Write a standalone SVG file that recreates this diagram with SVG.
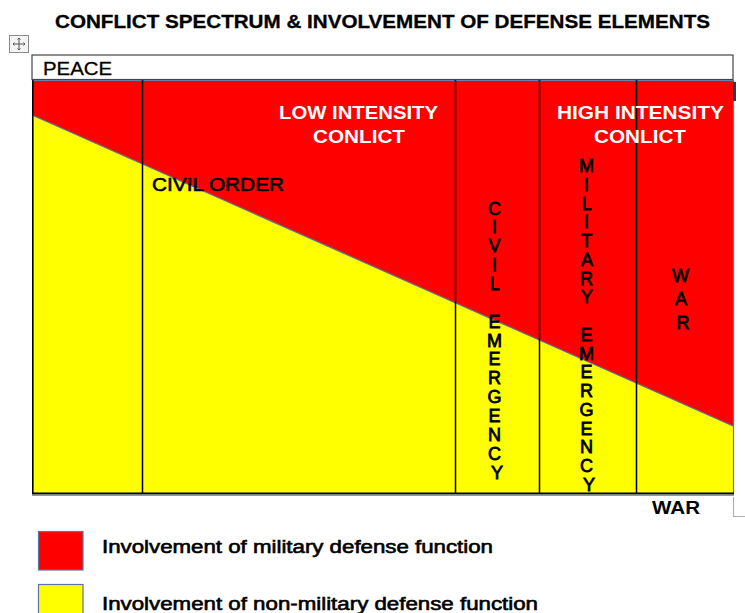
<svg xmlns="http://www.w3.org/2000/svg" width="745" height="613" viewBox="0 0 745 613">
  <style>
    .t { font-family: "Liberation Sans", Arial, sans-serif; fill: #000; }
    .b { font-weight: bold; }
    .h { stroke: #000; stroke-width: 0.6; }
    .w { fill: #fff; font-weight: bold; font-size: 19px; }
    .v { font-size: 18px; text-anchor: middle; stroke: #000; stroke-width: 0.8; }
    .col { stroke: #000; stroke-width: 1.5; }
    .sw { stroke: #5b73a6; stroke-width: 1.2; }
  </style>
  <rect width="745" height="613" fill="#fff"/>

  <!-- title -->
  <g id="title">
    <text class="t b" x="55" y="28" font-size="18" stroke="#000" stroke-width="0.3" textLength="655" lengthAdjust="spacingAndGlyphs">CONFLICT SPECTRUM &amp; INVOLVEMENT OF DEFENSE ELEMENTS</text>
  </g>

  <!-- table move handle -->
  <g id="handle" stroke="#8a8a8a" fill="none" stroke-width="1">
    <rect x="9.5" y="35.5" width="19" height="17" fill="#f4f4f4"/>
    <path d="M19 38 V50 M13 44 H25" stroke="#555"/>
    <path d="M17.5 39.5 L19 38 L20.5 39.5 M17.5 48.5 L19 50 L20.5 48.5 M14.5 42.5 L13 44 L14.5 45.5 M23.5 42.5 L25 44 L23.5 45.5" stroke="#555"/>
  </g>

  <!-- peace header -->
  <g id="peace">
    <rect x="32" y="55" width="701" height="24.5" fill="#fff" stroke="#444" stroke-width="1.2"/>
    <text class="t" x="43" y="75" font-size="19" stroke="#000" stroke-width="0.3" textLength="69" lengthAdjust="spacingAndGlyphs">PEACE</text>
  </g>

  <!-- spectrum chart -->
  <g id="chart">
    <rect x="32" y="80" width="701" height="413" fill="#ff0000"/>
    <polygon points="32,115 733,426 733,493 32,493" fill="#ffff00"/>
    <line x1="32" y1="115" x2="733" y2="426" stroke="#5a6f9e" stroke-width="1.2"/>
    <line x1="32" y1="80.5" x2="733" y2="80.5" stroke="#6a7fb0" stroke-width="1.2"/>
    <line x1="733.5" y1="80" x2="733.5" y2="493" class="sw"/>
    <rect x="733" y="82" width="3" height="19" fill="#2c3a55"/>
    <line x1="32.8" y1="80" x2="32.8" y2="494" stroke="#000" stroke-width="1.6"/>
    <line x1="32" y1="493.5" x2="734" y2="493.5" stroke="#000" stroke-width="2"/>
    <line x1="32" y1="495.3" x2="734" y2="495.3" stroke="#6a7fb0" stroke-width="1"/>
  </g>

  <!-- column dividers -->
  <g id="columns">
    <line class="col" x1="142.5" y1="80" x2="142.5" y2="493"/>
    <line class="col" x1="455.5" y1="80" x2="455.5" y2="493"/>
    <line class="col" x1="539.5" y1="80" x2="539.5" y2="493"/>
    <line class="col" x1="636.5" y1="80" x2="636.5" y2="493"/>
  </g>

  <g id="low-intensity">
    <text class="t w" x="279" y="119" textLength="159" lengthAdjust="spacingAndGlyphs">LOW INTENSITY</text>
    <text class="t w" x="313" y="143" textLength="92" lengthAdjust="spacingAndGlyphs">CONLICT</text>
  </g>

  <g id="high-intensity">
    <text class="t w" x="557" y="119" textLength="167" lengthAdjust="spacingAndGlyphs">HIGH INTENSITY</text>
    <text class="t w" x="594" y="143" textLength="92" lengthAdjust="spacingAndGlyphs">CONLICT</text>
  </g>

  <g id="civil-order">
    <text class="t h" x="152" y="191" font-size="19" textLength="132" lengthAdjust="spacingAndGlyphs">CIVIL ORDER</text>
  </g>

  <g id="civil-emergency">
    <text class="t v">
      <tspan x="497" y="214.5">C</tspan>
      <tspan x="497" dy="18.86">I</tspan>
      <tspan x="497" dy="18.86">V</tspan>
      <tspan x="497" dy="18.86">I</tspan>
      <tspan x="497" dy="18.86">L</tspan>
      <tspan x="497" dy="37.72">E</tspan>
      <tspan x="497" dy="18.86">M</tspan>
      <tspan x="497" dy="18.86">E</tspan>
      <tspan x="497" dy="18.86">R</tspan>
      <tspan x="497" dy="18.86">G</tspan>
      <tspan x="497" dy="18.86">E</tspan>
      <tspan x="497" dy="18.86">N</tspan>
      <tspan x="497" dy="18.86">C</tspan>
      <tspan x="497" dy="18.86">Y</tspan>
    </text>
  </g>

  <g id="military-emergency">
    <text class="t v">
      <tspan x="589" y="172">M</tspan>
      <tspan x="589" dy="18.75">I</tspan>
      <tspan x="589" dy="18.75">L</tspan>
      <tspan x="589" dy="18.75">I</tspan>
      <tspan x="589" dy="18.75">T</tspan>
      <tspan x="589" dy="18.75">A</tspan>
      <tspan x="589" dy="18.75">R</tspan>
      <tspan x="589" dy="18.75">Y</tspan>
      <tspan x="589" dy="37.5">E</tspan>
      <tspan x="589" dy="18.75">M</tspan>
      <tspan x="589" dy="18.75">E</tspan>
      <tspan x="589" dy="18.75">R</tspan>
      <tspan x="589" dy="18.75">G</tspan>
      <tspan x="589" dy="18.75">E</tspan>
      <tspan x="589" dy="18.75">N</tspan>
      <tspan x="589" dy="18.75">C</tspan>
      <tspan x="589" dy="18.75">Y</tspan>
    </text>
  </g>

  <g id="war-column">
    <text class="t v">
      <tspan x="683" y="281.5">W</tspan>
      <tspan x="683" dy="23.5">A</tspan>
      <tspan x="683" dy="23.5">R</tspan>
    </text>
  </g>

  <!-- war end marker -->
  <g id="war-end">
    <text class="t b" x="652" y="514" font-size="18" textLength="48" lengthAdjust="spacingAndGlyphs">WAR</text>
    <path d="M733.5 497 V516.5 H745" fill="none" stroke="#b0b0b0" stroke-width="1.2"/>
  </g>

  <!-- legend -->
  <g id="legend-military">
    <rect x="38.5" y="531.5" width="44.5" height="38.5" fill="#ff0000" stroke="#5b73a6" stroke-width="1.2"/>
    <text class="t h" x="102" y="553" font-size="18" textLength="391" lengthAdjust="spacingAndGlyphs">Involvement of military defense function</text>
  </g>
  <g id="legend-non-military">
    <rect x="38.5" y="584.5" width="44.5" height="38.5" fill="#ffff00" stroke="#5b73a6" stroke-width="1.2"/>
    <text class="t h" x="102" y="610" font-size="18" textLength="436" lengthAdjust="spacingAndGlyphs">Involvement of non-military defense function</text>
  </g>
</svg>
